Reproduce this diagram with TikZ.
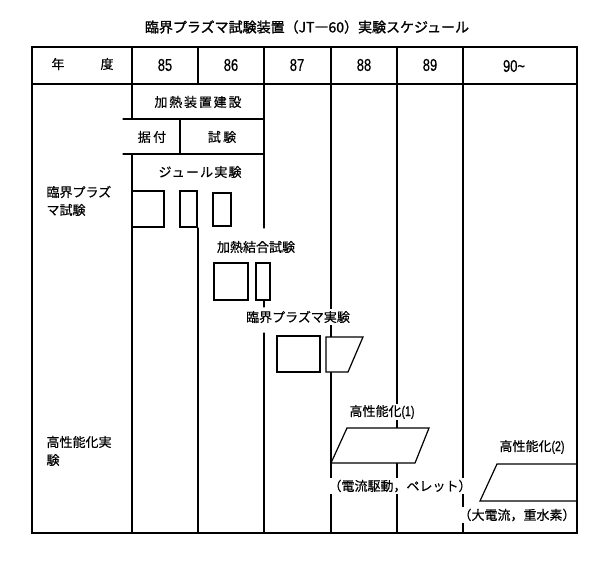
\documentclass[tikz,border=0pt]{standalone}
\usepackage{fontspec}
\newfontfamily\jp[FakeBold=0.4]{Noto Sans CJK JP}
\newfontfamily\jptitle[FakeBold=1.3]{Noto Sans CJK JP}
\newfontfamily\num[FakeStretch=0.76,FakeBold=0.5]{Liberation Sans}
\begin{document}
\begin{tikzpicture}[x=1pt,y=-1pt,line width=1.1pt,line cap=round,
  lbl/.style={font=\jp\fontsize{13}{15}\selectfont,inner sep=1.5pt},
  wlbl/.style={lbl,fill=white},
  yr/.style={font=\num\fontsize{17}{19}\selectfont,inner sep=0pt},
  bar/.style={draw,fill=white,line width=1.2pt,line join=miter}]
\useasboundingbox (0,0) rectangle (589,567);
% title
\node[font=\jptitle\fontsize{14}{16}\selectfont,inner sep=0pt] (title) at (307,27) {臨界プラズマ試験装置（JT―60）実験スケジュール};
% column lines
\draw (32,84) -- (577,84);
\draw (132,47) -- (132,119); \draw (132,154) -- (132,533);
\draw (198,47) -- (198,84); \draw (198,228) -- (198,533);
\draw (264,47) -- (264,228); \draw (264,300) -- (264,307); \draw (264,333) -- (264,533);
\draw (331,47) -- (331,533);
\draw (397,47) -- (397,533);
\draw (463,47) -- (463,533);
% header texts
\node[lbl] (nen) at (58,64) {年};
\node[lbl] (do) at (107,64) {度};
\node[yr] (y85) at (165,65) {85};
\node[yr] (y86) at (231,65) {86};
\node[yr] (y87) at (297,65) {87};
\node[yr] (y88) at (364,65) {88};
\node[yr] (y89) at (430,65) {89};
\node[yr] (y90) at (514,66) {90\textasciitilde};
% heating device rows
\draw (123,119) -- (264,119);
\draw (123,154) -- (264,154);
\draw (180,119) -- (180,154);
\node[lbl,font=\jp\fontsize{13}{15}\selectfont\addfontfeature{LetterSpace=14}] (kanetsu) at (198,102) {加熱装置建設};
\node[lbl,font=\jp\fontsize{13}{15}\selectfont\addfontfeature{LetterSpace=18}] (suetsuke) at (152,137) {据付};
\node[lbl,font=\jp\fontsize{13}{15}\selectfont\addfontfeature{LetterSpace=18}] (shiken) at (222,137) {試験};
% left labels
\node[lbl,anchor=west,inner sep=0pt] (rinkai1) at (46,192) {臨界プラズ};
\node[lbl,anchor=west,inner sep=0pt] (rinkai2) at (46,210) {マ試験};
\node[lbl,anchor=west,inner sep=0pt] (kosei1) at (46,442) {高性能化実};
\node[lbl,anchor=west,inner sep=0pt] (kosei2) at (46,460) {験};
% joule
\node[lbl,font=\jp\fontsize{13}{15}\selectfont\addfontfeature{LetterSpace=9}] (joule) at (200,172) {ジュール実験};
\draw[bar] (132,191) rectangle (164,227);
\draw[bar] (180,191) rectangle (197,227);
\draw[bar] (213,193) rectangle (231,226);
% heating coupling
\node[lbl] (ketsugo) at (256,247) {加熱結合試験};
\draw[bar] (214,263) rectangle (248,300);
\draw[bar] (256,263) rectangle (270,300);
% critical plasma
\node[wlbl] (rinkaiexp) at (298,317) {臨界プラズマ実験};
\draw[bar] (277,336) rectangle (320,372);
\draw[bar] (326,337) -- (363,337) -- (348,372) -- (326,372) -- cycle;
% high performance
\node[wlbl] (hp1) at (382,412) {高性能化{\num\fontsize{14}{15}\selectfont(1)}};
\draw[bar] (347,428) -- (429,428) -- (415,463) -- (331,463) -- cycle;
\node[wlbl] (hp1n) at (400,486) {（電流駆動，ペレット）};
\node[wlbl] (hp2) at (532,447) {高性能化{\num\fontsize{14}{15}\selectfont(2)}};
\draw[bar] (497,464) -- (577,464) -- (577,501) -- (480,501) -- cycle;
\node[wlbl] (hp2n) at (517,515) {（大電流，重水素）};
% frame
\draw[line width=1.2pt] (32,47) rectangle (577,533);
\end{tikzpicture}
\end{document}
